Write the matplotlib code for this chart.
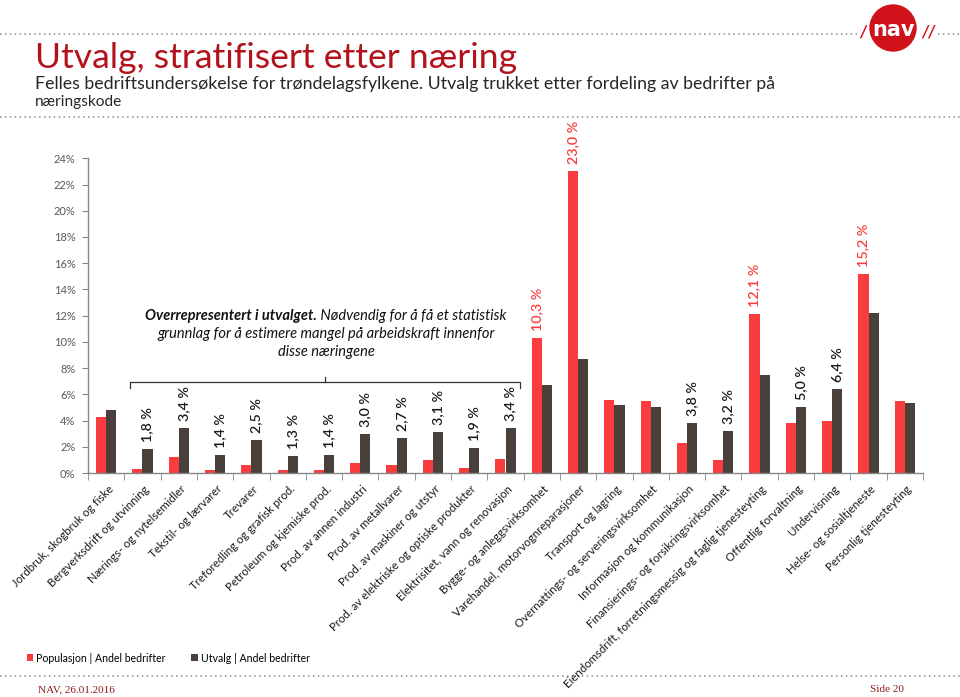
import matplotlib
matplotlib.use('Agg')
import matplotlib.pyplot as plt
import numpy as np
from matplotlib.patches import Circle

categories = [
    "Jordbruk, skogbruk og fiske", "Bergverksdrift og utvinning", "Nærings- og nytelsemidler",
    "Tekstil- og lærvarer", "Trevarer", "Treforedling og grafisk prod.",
    "Petroleum og kjemiske prod.", "Prod. av annen industri", "Prod. av metallvarer",
    "Prod. av maskiner og utstyr", "Prod. av elektriske og optiske produkter",
    "Elektrisitet, vann og renovasjon", "Bygge- og anleggsvirksomhet",
    "Varehandel, motorvognreparasjoner", "Transport og lagring",
    "Overnattings- og serveringsvirksomhet", "Informasjon og kommunikasjon",
    "Finansierings- og forsikringsvirksomhet",
    "Eiendomsdrift, forretningsmessig og faglig tjenesteyting",
    "Offentlig forvaltning", "Undervisning", "Helse- og sosialtjeneste",
    "Personlig tjenesteyting",
]
populasjon = [4.3, 0.3, 1.25, 0.25, 0.6, 0.25, 0.2, 0.8, 0.6, 1.0, 0.35, 1.1,
              10.3, 23.0, 5.6, 5.5, 2.25, 1.0, 12.1, 3.8, 4.0, 15.2, 5.5]
utvalg = [4.8, 1.8, 3.4, 1.4, 2.5, 1.3, 1.4, 3.0, 2.7, 3.1, 1.9, 3.4,
          6.7, 8.7, 5.15, 5.05, 3.8, 3.2, 7.5, 5.0, 6.4, 12.2, 5.35]
pop_labelled = [12, 13, 18, 21]
utv_labelled = [1, 2, 3, 4, 5, 6, 7, 8, 9, 10, 11, 16, 17, 19, 20]
yticks = [0, 2, 4, 6, 8, 10, 12, 14, 16, 18, 20, 22, 24]
series_names = ["Populasjon | Andel bedrifter", "Utvalg | Andel bedrifter"]

RED = "#FA3C3E"
DARK = "#4A403B"
GREY = "#868686"
FONT = ["Lato", "DejaVu Sans"]
plt.rcParams['font.family'] = FONT

W, H = 960, 697
fig = plt.figure(figsize=(W / 100, H / 100), dpi=100)
fig.patch.set_facecolor("white")

def fx(px):
    return px / W

def fy(py):
    return 1 - py / H

ax = fig.add_axes([fx(88), fy(473), fx(923) - fx(88), fy(158.3) - fy(473)])
ax.patch.set_visible(False)
x = np.arange(len(categories))
bw = 0.28
b1 = ax.bar(x - bw / 2, populasjon, bw, color=RED, label=series_names[0], zorder=2)
b2 = ax.bar(x + bw / 2, utvalg, bw, color=DARK, label=series_names[1], zorder=2)
ax.set_xlim(-0.5, len(categories) - 0.5)
ax.set_ylim(0, 24)
ax.set_yticks(yticks)
ax.set_yticklabels([f"{t}%" for t in yticks], fontsize=8, color="#595959")
for s in ["top", "right"]:
    ax.spines[s].set_visible(False)
for s in ["left", "bottom"]:
    ax.spines[s].set_color(GREY)
    ax.spines[s].set_linewidth(1.0)
ax.tick_params(axis="y", length=4, color=GREY, pad=5)
# label anchors sit slightly right of the category centre (invisible major ticks)
ax.set_xticks(x + 0.04)
ax.set_xticklabels(categories, rotation=45, ha="right", rotation_mode="anchor",
                   fontsize=8.3, color="#1a1a1a")
ax.tick_params(axis="x", which="major", length=0, pad=7.5)
ax.set_xticks(np.arange(len(categories) + 1) - 0.5, minor=True)
ax.tick_params(axis="x", which="minor", length=5, color=GREY)

def fmt(v):
    return f"{v:.1f} %".replace(".", ",")

for i in pop_labelled:
    ax.annotate(fmt(populasjon[i]), (x[i] - bw / 2, populasjon[i]), xytext=(0, 5),
                textcoords="offset points", rotation=90, ha="center", va="bottom",
                fontsize=10.3, color=RED, fontweight="semibold")
for i in utv_labelled:
    ax.annotate(fmt(utvalg[i]), (x[i] + bw / 2, utvalg[i]), xytext=(0, 5),
                textcoords="offset points", rotation=90, ha="center", va="bottom",
                fontsize=10.3, color="#1a1a1a", fontweight="semibold")

# bracket over the over-represented group
g0, g1 = 1, 11
yb = 6.94
ax.plot([g0 - 0.35, g0 - 0.35, g1 + 0.4, g1 + 0.4], [yb - 0.45, yb, yb, yb - 0.45],
        color="#333333", lw=0.9, clip_on=False, zorder=3)
xm = (g0 - 0.35 + g1 + 0.4) / 2
ax.plot([xm, xm], [yb, yb + 0.4], color="#333333", lw=0.9, clip_on=False, zorder=3)

# overlay in pixel coordinates
ov = fig.add_axes([0, 0, 1, 1], zorder=-1)
ov.set_xlim(0, W)
ov.set_ylim(H, 0)
ov.axis("off")
ov.patch.set_alpha(0)

renderer = fig.canvas.get_renderer()

def text_px(px, py, s, target_w=None, size=10, **kw):
    t = ov.text(px, py, s, fontsize=size, **kw)
    if target_w is not None:
        w = t.get_window_extent(renderer).width
        t.set_fontsize(size * target_w / w)
    return t

dot = dict(color="#8C8C8C", lw=1.1, linestyle=(0, (1, 2.2)))
ov.plot([0, 858], [34, 34], **dot)
ov.plot([938, 960], [34, 34], **dot)
ov.plot([0, 960], [117, 117], **dot)
ov.plot([0, 960], [676, 676], **dot)

text_px(35, 68, "Utvalg, stratifisert etter næring", target_w=482, size=24,
        color="#B3121C", va="baseline", ha="left")
text_px(35, 89, "Felles bedriftsundersøkelse for trøndelagsfylkene. Utvalg trukket etter fordeling av bedrifter på",
        target_w=738, size=12, color="#262626", va="baseline", ha="left")
text_px(35, 106, "næringskode", size=12, color="#262626", va="baseline", ha="left",
        target_w=87)

# annotation text
ANN = 10.5
l1a = text_px(0, 320, "Overrepresentert i utvalget.", size=ANN, fontweight="bold",
              fontstyle="italic", color="#111111", va="baseline", ha="left")
l1b = text_px(0, 320, " Nødvendig for å få et statistisk", size=ANN,
              fontstyle="italic", color="#111111", va="baseline", ha="left")
w1 = l1a.get_window_extent(renderer).width
w2 = l1b.get_window_extent(renderer).width
cx = 326
l1a.set_x(cx - (w1 + w2) / 2)
l1b.set_x(cx - (w1 + w2) / 2 + w1)
text_px(cx, 338, "grunnlag for å estimere mangel på arbeidskraft innenfor", size=ANN,
        fontstyle="italic", color="#111111", va="baseline", ha="center")
text_px(cx, 356, "disse næringene", size=ANN, fontstyle="italic", color="#111111",
        va="baseline", ha="center")

# footer
text_px(38, 692, "NAV, 26.01.2016", target_w=77, size=8, family="Liberation Serif",
        color="#8E1B1B", va="baseline", ha="left")
text_px(904, 692, "Side 20", size=8, family="Liberation Serif", color="#8E1B1B",
        va="baseline", ha="right", target_w=34)

# NAV logo
ov.add_patch(Circle((893, 28), 23, color="#D0121B", zorder=2))
ov.text(893, 30, "nav", color="white", fontsize=15, fontweight="heavy",
        ha="center", va="center", zorder=3, family="DejaVu Sans")
ov.text(863, 33, "/", color="#D0121B", fontsize=12, fontweight="bold",
        ha="center", va="center", fontstyle="italic")
ov.text(928, 33, "//", color="#D0121B", fontsize=12, fontweight="bold",
        ha="center", va="center", fontstyle="italic")

fig.legend(handles=[b1, b2], labels=series_names, loc="center left",
           bbox_to_anchor=(fx(27), fy(658)), ncol=2, frameon=False, fontsize=7.6,
           handlelength=0.6, handleheight=0.6, handletextpad=0.3, columnspacing=2.4,
           borderaxespad=0, borderpad=0)

fig.savefig("out.png", dpi=100, facecolor="white")
